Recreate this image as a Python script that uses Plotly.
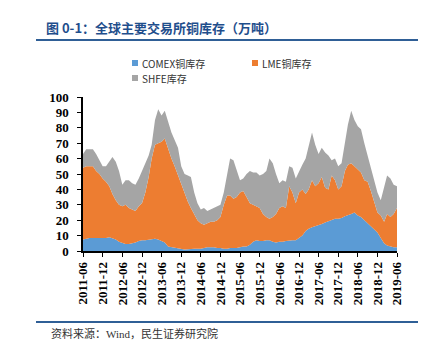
import plotly.graph_objects as go
import pandas as pd

dates = pd.date_range("2011-06-01", "2019-06-01", freq="MS")

comex = [7.5, 8, 8.5, 8.5, 8.5, 8.5, 8.5, 8.5, 9, 8.5, 7.5, 6, 5, 4.5, 4.5, 5, 5.5, 6.5, 7, 7,
         7.5, 7.5, 8, 7.5, 6.5, 5.5, 3, 2.5, 2, 1.5, 1.2, 1, 1.2, 1.5, 1.5, 1.5, 1.5, 2, 2.5, 2.5,
         2.5, 2, 2, 1.5, 1.5, 2, 2, 2, 2.5, 3, 3, 4, 6, 7, 6.5, 6.5, 7, 7, 6, 5.5,
         6, 6, 6.5, 7, 7, 7, 8.5, 10, 13, 14.5, 15.5, 16, 16.5, 17.5, 18.5, 19.5, 20.5, 21, 21, 21.5,
         22.5, 23, 24, 25, 23, 22, 20, 18.5, 16.5, 14.5, 12, 8.5, 5, 3.5, 3, 2.5, 2.5]

lme = [46.5, 47, 46.5, 46.5, 43.5, 41.5, 38.5, 36.5, 33, 28.5, 25.5, 24, 24, 25.5, 23.5, 22, 20.5, 22.5, 24, 31,
       40.5, 52.5, 61, 62.5, 64.5, 67.5, 63, 57.5, 53, 47.5, 41.8, 36, 30.8, 26.5, 22.5, 18.5, 16.5, 15, 15.5, 16.5,
       16.5, 18, 20, 28.5, 34.5, 34, 32, 33, 35.5, 36, 32, 27, 24, 22, 21.5, 17.5, 15, 14, 16, 18.5,
       22, 23, 21.5, 35, 31, 24, 29.5, 30, 24, 25.5, 30.5, 26, 27.5, 30.5, 22.5, 20.5, 28.5, 25, 19, 20.5,
       29.5, 33, 33, 30, 30, 29, 26, 26.5, 22.5, 17.5, 13, 14.5, 14, 20.5, 19, 21.5, 25.5]

shfe = [9, 11, 11, 11, 11, 9, 8, 10, 16, 24, 25, 22, 14, 16, 18, 17, 17, 18, 21, 19,
        14, 9, 16, 22, 17, 18, 18, 17, 17, 18, 12, 13, 17, 20, 14, 11, 9, 11, 8, 8,
        9, 9, 8, 8, 14, 24, 25, 17, 8, 8, 15, 21, 21, 22, 21, 26, 30, 39, 35, 26,
        16, 17, 17, 13, 16, 16, 14, 16, 23, 28, 31, 27, 19, 19, 23, 22, 10, 14, 15, 15,
        18, 26, 34, 30, 28, 28, 24, 17, 16, 15, 13, 10, 23, 25, 25, 19, 14]

tick_labels = ["2011-06", "2011-12", "2012-06", "2012-12", "2013-06", "2013-12", "2014-06",
               "2014-12", "2015-06", "2015-12", "2016-06", "2016-12", "2017-06", "2017-12",
               "2018-06", "2018-12", "2019-06"]

series_names = ["COMEX铜库存", "LME铜库存", "SHFE库存"]
colors = ["#5B9BD5", "#ED7D31", "#A5A5A5"]

fig = go.Figure()
for name, vals, col in zip(series_names, [comex, lme, shfe], colors):
    fig.add_trace(go.Scatter(
        x=dates, y=vals, name=name, mode="lines", stackgroup="one",
        line=dict(width=0, color=col), fillcolor=col, showlegend=False,
    ))

W, H = 434, 347
L, R, T, B = 83, 37, 97, 96
pw, ph = W - L - R, H - T - B

def px(x):
    return (x - L) / pw

def py(y):
    return (H - B - y) / ph

serif = "Liberation Serif, Times New Roman, Noto Sans CJK SC, serif"
legend_font = "Liberation Sans Narrow, Arial Narrow, Noto Sans CJK SC, sans-serif"
navy = "#1F4E8C"

annotations = [
    dict(text="<b>图 0-1：全球主要交易所铜库存（万吨）</b>", x=px(44), y=py(27), xref="paper", yref="paper",
         xanchor="left", yanchor="middle", showarrow=False,
         font=dict(family="Noto Sans CJK SC, sans-serif", size=13, color=navy)),
    dict(text="资料来源：Wind，民生证券研究院", x=px(49), y=py(333), xref="paper", yref="paper",
         xanchor="left", yanchor="middle", showarrow=False,
         font=dict(family="Liberation Serif, Noto Sans CJK SC, serif", size=11, color="#333333")),
]
shapes = [
    dict(type="line", xref="paper", yref="paper", x0=px(36), x1=px(418), y0=py(40), y1=py(40),
         line=dict(color="#2F5F96", width=2)),
    dict(type="line", xref="paper", yref="paper", x0=px(36), x1=px(418), y0=py(322), y1=py(322),
         line=dict(color="#2F5F96", width=2)),
]
legend_pos = [(132, 63), (252, 63), (132, 78)]
for (lx, ly), name, col in zip(legend_pos, series_names, colors):
    shapes.append(dict(type="rect", xref="paper", yref="paper", x0=px(lx), x1=px(lx + 6),
                       y0=py(ly + 3), y1=py(ly - 3), fillcolor=col, line=dict(width=0)))
    annotations.append(dict(text=name, x=px(lx + 8), y=py(ly), xref="paper", yref="paper",
                            xanchor="left", yanchor="middle", showarrow=False,
                            font=dict(family=legend_font, size=10, color="#333333")))

fig.update_layout(
    width=W, height=H,
    margin=dict(l=L, r=R, t=T, b=B),
    paper_bgcolor="white", plot_bgcolor="white",
    annotations=annotations, shapes=shapes,
    xaxis=dict(
        range=[dates[0], dates[-1]],
        tickmode="array",
        tickvals=pd.date_range("2011-06-01", "2019-06-01", freq="6MS"),
        ticktext=tick_labels,
        tickangle=-90,
        showgrid=False, zeroline=False,
        showline=True, linecolor="black", linewidth=1.5,
        ticks="outside", ticklen=4, tickcolor="black",
        tickfont=dict(family=serif, size=13, color="black", weight="bold"),
    ),
    yaxis=dict(
        range=[0, 100], dtick=10,
        showgrid=False, zeroline=False,
        showline=True, linecolor="black", linewidth=1.5,
        ticks="outside", ticklen=4, tickcolor="black", ticklabelstandoff=6,
        tickfont=dict(family=serif, size=13, color="black", weight="bold"),
    ),
)

fig.write_html("out.html")
